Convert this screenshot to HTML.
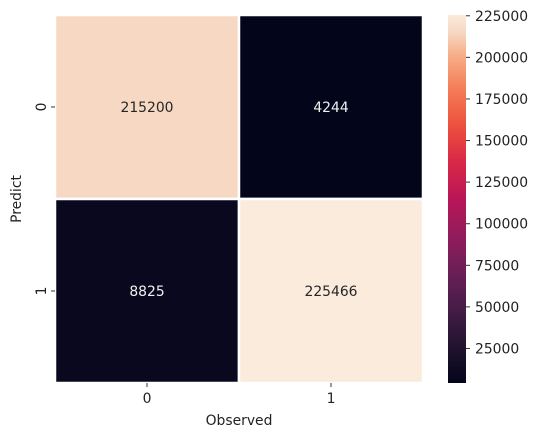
<!DOCTYPE html>
<html><head><meta charset="utf-8"><style>
body{margin:0;background:#fff;}
svg text{font-family:"DejaVu Sans","Liberation Sans",sans-serif;}
</style></head><body>
<svg id="chart" width="538" height="437" xmlns="http://www.w3.org/2000/svg">
<defs><linearGradient id="cbg" x1="0" y1="1" x2="0" y2="0"></linearGradient></defs>
<g id="cells"></g>
<g id="axes"></g>
<text x="239" y="425" font-size="13.9" text-anchor="middle" fill="#222">Observed</text>
<text transform="translate(21,199) rotate(-90)" font-size="13.9" text-anchor="middle" fill="#222">Predict</text>
<rect x="448" y="15" width="18" height="368" fill="url(#cbg)"/>
<g id="cbticks"></g>
</svg>
<script>
const rowLabels=["0","1"];
const colLabels=["0","1"];
const values=[[215200,4244],[8825,225466]];
const cbTicks=[25000,50000,75000,100000,125000,150000,175000,200000,225000];
const stops=[[0,"#03051a"],[0.1,"#221331"],[0.2,"#451c47"],[0.3,"#6a1f56"],[0.4,"#921c5b"],[0.5,"#b91657"],[0.6,"#d92847"],[0.7,"#ed503e"],[0.8,"#f47d57"],[0.9,"#f6b48f"],[0.95,"#f6d6c1"],[1,"#faebdd"]];
const NS="http://www.w3.org/2000/svg";
const flat=values.flat();
const vmin=Math.min(...flat),vmax=Math.max(...flat);
const X0=55,Y0=15,W=368,H=368;
const FS=13.9;
const cw=W/colLabels.length,ch=H/rowLabels.length;
function hex(h){return [1,3,5].map(i=>parseInt(h.substr(i,2),16));}
function color(v){let t=(v-vmin)/(vmax-vmin);t=Math.max(0,Math.min(1,t));
for(let i=1;i<stops.length;i++){if(t<=stops[i][0]){const a=stops[i-1],b=stops[i];const f=(t-a[0])/(b[0]-a[0]);const ca=hex(a[1]),cb=hex(b[1]);return "rgb("+ca.map((c,k)=>Math.round(c+(cb[k]-c)*f)).join(",")+")";}}return stops[stops.length-1][1];}
function lum(v){let t=(v-vmin)/(vmax-vmin);return t>0.5;}
function el(tag,attrs,parent){const e=document.createElementNS(NS,tag);for(const k in attrs)e.setAttribute(k,attrs[k]);parent.appendChild(e);return e;}
const cells=document.getElementById('cells');
values.forEach((row,r)=>row.forEach((v,c)=>{
 const rc=el('rect',{x:X0+c*cw,y:Y0+r*ch,width:cw,height:ch,fill:color(v),stroke:"#fff","stroke-width":2.5},cells);
 
 
 const t=el('text',{x:X0+c*cw+cw/2,y:Y0+r*ch+ch/2+5,"font-size":FS,"text-anchor":"middle",fill:lum(v)?"#262626":"#f0f0f0"},cells);
 t.textContent=String(v);
 
 
}));
const axes=document.getElementById('axes');
colLabels.forEach((l,i)=>{const x=X0+i*cw+cw/2;
 const tk=el('line',{x1:x,x2:x,y1:H+Y0,y2:H+Y0+4,stroke:"#333"},axes);
 
 const t=el('text',{x:x,y:H+Y0+20,"font-size":FS,"text-anchor":"middle",fill:"#222"},axes);t.textContent=l;
 });
rowLabels.forEach((l,i)=>{const y=Y0+i*ch+ch/2;
 const tk=el('line',{x1:X0-4,x2:X0,y1:y,y2:y,stroke:"#333"},axes);
 
 const t=el('text',{transform:"translate("+(X0-9)+","+y+") rotate(-90)","font-size":FS,"text-anchor":"middle",fill:"#222"},axes);t.textContent=l;
 });
const g=document.getElementById('cbg');
stops.forEach(s=>{el('stop',{offset:s[0],"stop-color":s[1]},g);});
const cbt=document.getElementById('cbticks');
cbTicks.forEach(v=>{const y=383-(v-vmin)/(vmax-vmin)*368;
 const tk=el('line',{x1:466,x2:470,y1:y,y2:y,stroke:"#333"},cbt);
 
 const t=el('text',{x:475,y:y+5,"font-size":FS,fill:"#222"},cbt);t.textContent=String(v);
 });
</script>
</body></html>
